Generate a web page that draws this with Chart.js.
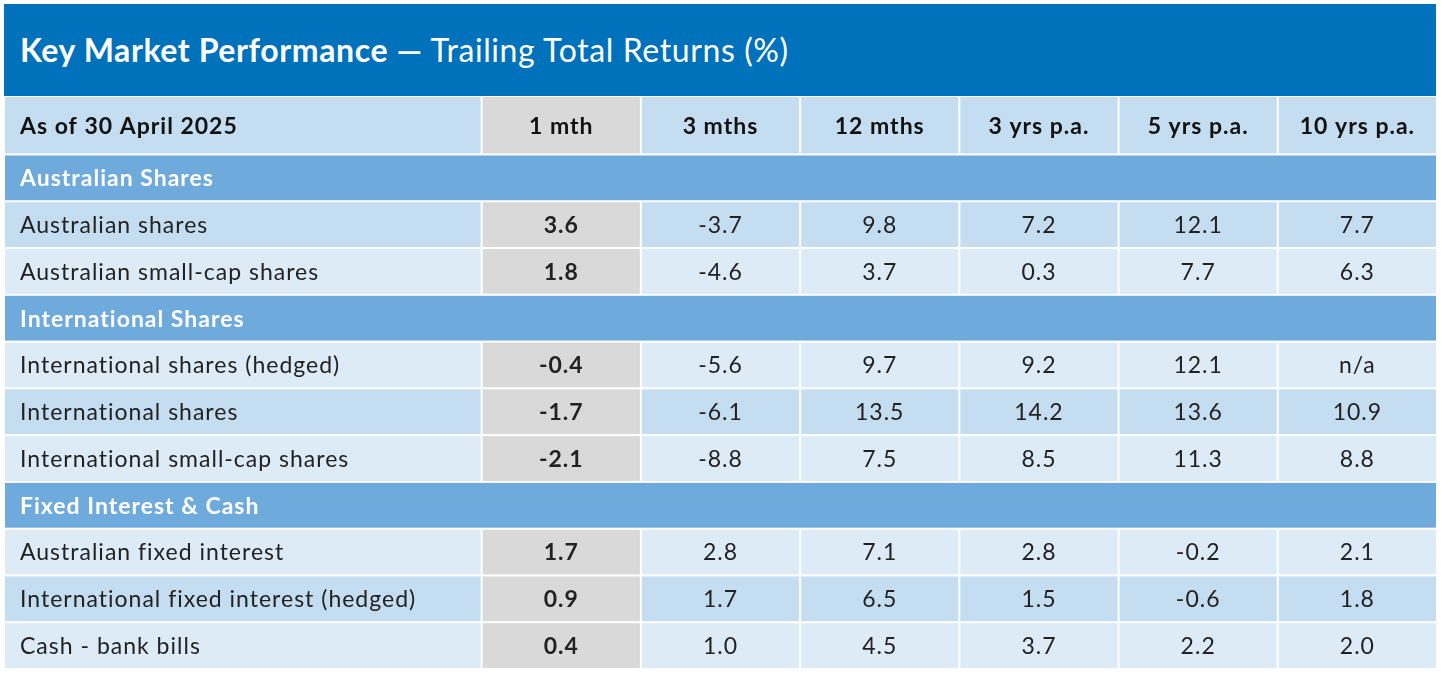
<!DOCTYPE html>
<html><head><meta charset="utf-8">
<script src="https://cdn.jsdelivr.net/npm/chart.js@4"></script>
<style>
body{margin:0;background:#fff;font-family:Lato,"Open Sans",sans-serif}
#title{position:absolute;left:4px;top:4px;width:1432px;height:92px;background:#0071BB;color:#fff;font-size:32px;letter-spacing:0.6px;line-height:92px;box-sizing:border-box;padding-left:16px}
#wrap{position:absolute;left:4px;top:96px;width:1433px;height:573px}
</style></head><body>
<div id="title"><b>Key Market Performance —</b> Trailing Total Returns (%)</div>
<div id="wrap"><canvas id="c"></canvas></div>
<script>
const headers = ["As of 30 April 2025","1 mth","3 mths","12 mths","3 yrs p.a.","5 yrs p.a.","10 yrs p.a."];
const rowLabels = ["Australian Shares","Australian shares","Australian small-cap shares","International Shares","International shares (hedged)","International shares","International small-cap shares","Fixed Interest & Cash","Australian fixed interest","International fixed interest (hedged)","Cash - bank bills"];
const sectionRows = [0,3,7];
const darkRows = [1,5,9];
const m1   = ["","3.6","1.8","","-0.4","-1.7","-2.1","","1.7","0.9","0.4"];
const m3   = ["","-3.7","-4.6","","-5.6","-6.1","-8.8","","2.8","1.7","1.0"];
const m12  = ["","9.8","3.7","","9.7","13.5","7.5","","7.1","6.5","4.5"];
const y3   = ["","7.2","0.3","","9.2","14.2","8.5","","2.8","1.5","3.7"];
const y5   = ["","12.1","7.7","","12.1","13.6","11.3","","-0.2","-0.6","2.2"];
const y10  = ["","7.7","6.3","","n/a","10.9","8.8","","2.1","1.8","2.0"];
const cols = [m1,m3,m12,y3,y5,y10];
const colEdges = [0,3,4,5,6,7,8,9];
const HEAD = 1.25;
const FONT = '23px Lato, "Open Sans", sans-serif';

const tablePlugin = {
  id:'table',
  beforeDraw(chart){
    const ctx = chart.ctx, xs = chart.scales.x, ys = chart.scales.y;
    const X = v=>xs.getPixelForValue(v), Y = v=>ys.getPixelForValue(v);
    const cell=(c0,c1,r0,r1,fill)=>{ctx.fillStyle=fill;const x0=X(c0),x1=X(c1),y0=Y(r0),y1=Y(r1);ctx.fillRect(x0+1,y0+1,x1-x0-2,y1-y0-2);return [x0,x1,(y0+y1)/2+1];};
    ctx.save(); ctx.textBaseline='middle'; ctx.letterSpacing='1px';
    for(let c=0;c<7;c++){
      const [x0,x1,ym]=cell(colEdges[c],colEdges[c+1],0,HEAD,c===1?'#D9D9D9':'#C5DDF1');
      ctx.fillStyle='#111'; ctx.font='bold '+FONT;
      if(c===0){ctx.textAlign='left';ctx.fillText(headers[c],x0+16,ym);} else {ctx.textAlign='center';ctx.fillText(headers[c],(x0+x1)/2,ym);}
    }
    rowLabels.forEach((lab,r)=>{
      const r0=HEAD+r, r1=r0+1;
      if(sectionRows.includes(r)){
        const [x0,x1,ym]=cell(0,9,r0,r1,'#6FAADC');
        ctx.fillStyle='#fff'; ctx.font='bold '+FONT; ctx.textAlign='left';
        ctx.fillText(lab,x0+16,ym); return;
      }
      const bg = darkRows.includes(r)?'#C5DDF1':'#DDEBF7';
      let [x0,x1,ym]=cell(0,3,r0,r1,bg);
      ctx.fillStyle='#222'; ctx.font=FONT; ctx.textAlign='left';
      ctx.fillText(lab,x0+16,ym);
      cols.forEach((arr,i)=>{
        const c=i+1;
        const [a,b,m]=cell(colEdges[c],colEdges[c+1],r0,r1,c===1?'#D9D9D9':bg);
        ctx.fillStyle='#222'; ctx.textAlign='center';
        ctx.font=(c===1?'bold ':'')+FONT;
        ctx.fillText(arr[r],(a+b)/2,m);
      });
    });
    ctx.restore();
  }
};
new Chart(document.getElementById('c'),{
  type:'scatter',
  data:{datasets:[{data:[]}]},
  options:{responsive:true,maintainAspectRatio:false,animation:false,
    layout:{padding:0},
    plugins:{legend:{display:false},tooltip:{enabled:false}},
    scales:{x:{type:'linear',min:0,max:9,display:false},y:{type:'linear',min:0,max:HEAD+rowLabels.length,reverse:true,display:false}}},
  plugins:[tablePlugin]
});
</script></body></html>
